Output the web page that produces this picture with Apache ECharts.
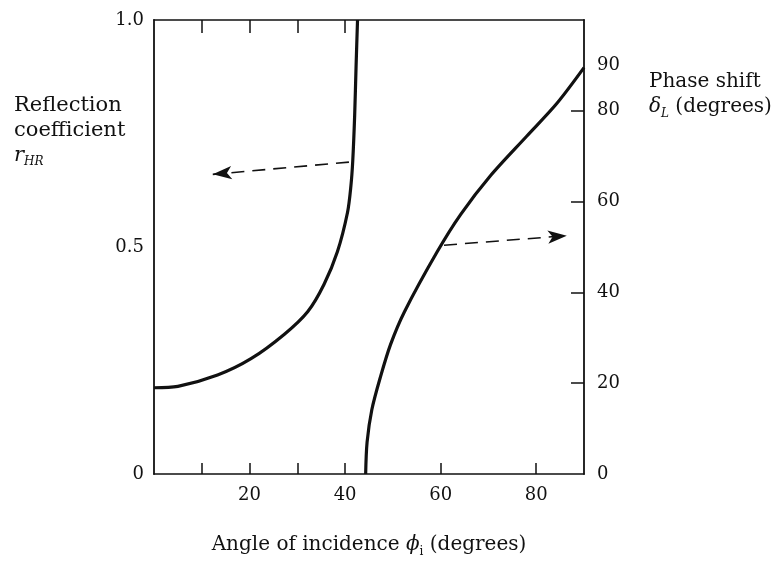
<!DOCTYPE html>
<html>
<head>
<meta charset="utf-8">
<script src="https://cdn.jsdelivr.net/npm/echarts@6/dist/echarts.min.js"></script>
<style>
  html, body { margin: 0; padding: 0; background: #fff; }
  #chart { width: 783px; height: 563px; }
</style>
</head>
<body>
<div id="chart"></div>
<script>
// Angle of incidence (degrees) vs reflection coefficient magnitude
const reflAngles = [0, 5, 13.3, 20.3, 27.3, 32.2, 35.6, 38.4, 40.5, 41.2, 41.6, 42.0, 42.3, 42.6];
const reflValues = [0.19, 0.193, 0.218, 0.254, 0.308, 0.358, 0.418, 0.49, 0.576, 0.633, 0.69, 0.79, 0.9, 1.0];

// Angle of incidence (degrees) vs phase shift (degrees)
const phaseAngles = [44.3, 44.6, 45.6, 47.4, 49.5, 52.4, 59.3, 64.2, 70.5, 78, 84.3, 90];
const phaseValues = [0, 7, 14.2, 21.4, 28.5, 35.7, 49, 57.2, 65.8, 74.4, 81.6, 89.5];

// Tick labels
const xTickLabels = [20, 40, 60, 80];
const xTickMarks = [10, 20, 30, 40, 60, 80];
const xTopTickMarks = [10, 20, 30, 40];
const leftTickLabels = [0, 0.5, 1];
const rightTickLabels = [0, 20, 40, 60, 80, 90];
const rightTickMarks = [20, 40, 60, 80];

// Dashed pointer arrows: [from, to]
const reflArrow = [[40.8, 0.687], [12.3, 0.66]];
const phaseArrow = [[60.7, 50.4], [86.4, 52.5]];

const FONT = 'DejaVu Serif';
const INK = '#111';

const chart = echarts.init(document.getElementById('chart'));

const zip = (xs, ys) => xs.map((x, i) => [x, ys[i]]);

const arrowMark = (pts) => ({
  silent: true,
  symbol: ['none', 'arrow'],
  symbolSize: [10, 19],
  label: { show: false },
  lineStyle: { color: INK, width: 1.6, type: [13, 8] },
  data: [[{ coord: pts[0] }, { coord: pts[1] }]]
});

chart.setOption({
  animation: false,
  backgroundColor: '#fff',
  textStyle: { fontFamily: FONT, color: INK },
  grid: { left: 154, right: 199, top: 20, bottom: 78 },
  xAxis: [
    {
      type: 'value', min: 0, max: 90, interval: 10,
      position: 'bottom',
      name: '{n|Angle of incidence }{i|ϕ}{s|i}{n| (degrees)}',
      nameLocation: 'middle', nameGap: 58,
      nameTextStyle: {
        rich: {
          n: { fontFamily: FONT, fontSize: 20, color: INK, lineHeight: 26 },
          i: { fontFamily: FONT, fontSize: 20, color: INK, fontStyle: 'italic', lineHeight: 26 },
          s: { fontFamily: FONT, fontSize: 12, color: INK, lineHeight: 12, verticalAlign: 'bottom' }
        }
      },
      axisLine: { show: true, onZero: false, lineStyle: { color: INK, width: 1.6 } },
      axisTick: { show: true, inside: true, length: 11, customValues: xTickMarks, lineStyle: { color: INK, width: 1.5 } },
      axisLabel: { customValues: xTickLabels, fontFamily: FONT, fontSize: 18, color: INK, margin: 12 },
      splitLine: { show: false }
    },
    {
      type: 'value', min: 0, max: 90, interval: 10,
      position: 'top',
      axisLine: { show: true, onZero: false, lineStyle: { color: INK, width: 1.6 } },
      axisTick: { show: true, inside: true, length: 13, customValues: xTopTickMarks, lineStyle: { color: INK, width: 1.5 } },
      axisLabel: { show: false },
      splitLine: { show: false }
    }
  ],
  yAxis: [
    {
      type: 'value', min: 0, max: 1, interval: 0.5,
      position: 'left',
      axisLine: { show: true, onZero: false, lineStyle: { color: INK, width: 1.8 } },
      axisTick: { show: false },
      axisLabel: {
        customValues: leftTickLabels,
        fontFamily: FONT, fontSize: 18, color: INK, margin: 10,
        formatter: (v) => (v === 0 ? '0' : v.toFixed(1))
      },
      splitLine: { show: false }
    },
    {
      type: 'value', min: 0, max: 100, interval: 10,
      position: 'right',
      axisLine: { show: true, onZero: false, lineStyle: { color: INK, width: 1.8 } },
      axisTick: { show: true, inside: true, length: 13, customValues: rightTickMarks, lineStyle: { color: INK, width: 1.5 } },
      axisLabel: { customValues: rightTickLabels, fontFamily: FONT, fontSize: 18, color: INK, margin: 13 },
      splitLine: { show: false }
    }
  ],
  series: [
    {
      name: 'Reflection coefficient',
      type: 'line',
      xAxisIndex: 0, yAxisIndex: 0,
      data: zip(reflAngles, reflValues),
      smooth: 0.3,
      showSymbol: false,
      clip: true,
      lineStyle: { color: INK, width: 3.2 },
      markLine: arrowMark(reflArrow)
    },
    {
      name: 'Phase shift',
      type: 'line',
      xAxisIndex: 0, yAxisIndex: 1,
      data: zip(phaseAngles, phaseValues),
      smooth: 0.3,
      showSymbol: false,
      clip: true,
      lineStyle: { color: INK, width: 3.2 },
      markLine: arrowMark(phaseArrow)
    }
  ],
  graphic: [
    {
      type: 'text', left: 14, top: 95, silent: true,
      style: {
        text: '{n|Reflection}\n{n|coefficient}\n{i|r}{s|HR}',
        rich: {
          n: { fontFamily: FONT, fontSize: 21, fill: INK, lineHeight: 25 },
          i: { fontFamily: FONT, fontSize: 21, fill: INK, fontStyle: 'italic', lineHeight: 25 },
          s: { fontFamily: FONT, fontSize: 12, fill: INK, fontStyle: 'italic', lineHeight: 12, verticalAlign: 'bottom' }
        }
      }
    },
    {
      type: 'text', left: 649, top: 72, silent: true,
      style: {
        text: '{n|Phase shift}\n{i|δ}{s|L}{n| (degrees)}',
        rich: {
          n: { fontFamily: FONT, fontSize: 20, fill: INK, lineHeight: 25 },
          i: { fontFamily: FONT, fontSize: 20, fill: INK, fontStyle: 'italic', lineHeight: 25 },
          s: { fontFamily: FONT, fontSize: 12, fill: INK, fontStyle: 'italic', lineHeight: 12, verticalAlign: 'bottom' }
        }
      }
    }
  ]
});
</script>
</body>
</html>
